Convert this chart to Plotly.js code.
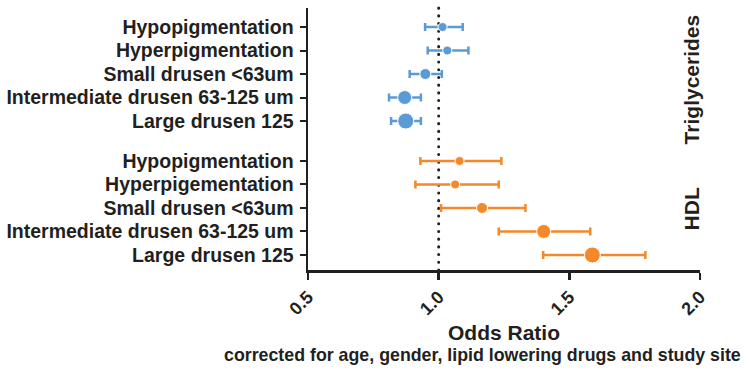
<!DOCTYPE html>
<html>
<head>
<meta charset="utf-8">
<script src="https://cdn.plot.ly/plotly-3.0.1.min.js"></script>
<style>html,body{margin:0;padding:0;background:#fff;}#chart{width:749px;height:370px;}</style>
</head>
<body>
<div id="chart"></div>
<script>
// Data
const trigLabels = ["Hypopigmentation", "Hyperpigmentation", "Small drusen <63um", "Intermediate drusen 63-125 um", "Large drusen 125"];
const trigOR = [1.015, 1.033, 0.949, 0.870, 0.874];
const trigLo = [0.948, 0.958, 0.889, 0.810, 0.818];
const trigHi = [1.092, 1.114, 1.012, 0.932, 0.932];

const hdlLabels = ["Hypopigmentation", "Hyperpigementation", "Small drusen <63um", "Intermediate drusen 63-125 um", "Large drusen 125"];
const hdlOR = [1.080, 1.063, 1.166, 1.402, 1.588];
const hdlLo = [0.930, 0.911, 1.009, 1.230, 1.400];
const hdlHi = [1.240, 1.230, 1.332, 1.580, 1.791];

const groupNames = ["Triglycerides", "HDL"];
const xTicks = [0.5, 1.0, 1.5, 2.0];
const xTickText = ["0.5", "1.0", "1.5", "2.0"];

// Layout helpers (positions/styles)
const gap = 5.7;
const trigY = trigLabels.map((_, i) => i);
const hdlY = hdlLabels.map((_, i) => i + gap);
const sizes = [9, 9, 11, 14, 16];
const blue = "#5b9bd5", orange = "#f5892a", ink = "#231f20";
const FONT = "Liberation Sans, Arial, sans-serif";

function trace(x, lo, hi, y, color) {
  return {
    type: "scatter", mode: "markers", x: x, y: y,
    marker: {color: color, size: sizes, opacity: 1},
    error_x: {type: "data", symmetric: false,
      array: x.map((v, i) => hi[i] - v),
      arrayminus: x.map((v, i) => v - lo[i]),
      color: color, thickness: 2.5, width: 4},
    showlegend: false, hoverinfo: "skip", cliponaxis: false
  };
}

const data = [
  trace(trigOR, trigLo, trigHi, trigY, blue),
  trace(hdlOR, hdlLo, hdlHi, hdlY, orange)
];

const layout = {
  width: 749, height: 370,
  margin: {l: 308, r: 49, t: 8, b: 100},
  paper_bgcolor: "#fff", plot_bgcolor: "#fff",
  font: {family: FONT, color: ink},
  xaxis: {
    range: [0.5, 2.0], tickvals: xTicks, ticktext: xTickText,
    tickangle: -45, tickfont: {size: 18, family: FONT, color: ink, weight: "bold"},
    showgrid: false, zeroline: false, showline: true, linecolor: ink, linewidth: 2.5,
    ticks: "outside", ticklen: 7, tickwidth: 2.5, tickcolor: ink,
    title: {text: "<b>Odds Ratio</b>", font: {size: 21, family: FONT, color: ink}, standoff: 8}
  },
  yaxis: {
    range: [10.34, -0.81], tickvals: trigY.concat(hdlY), ticktext: trigLabels.concat(hdlLabels),
    tickfont: {size: 19.5, family: FONT, color: ink, weight: "bold"},
    showgrid: false, zeroline: false, showline: true, linecolor: ink, linewidth: 2.5,
    ticks: "outside", ticklen: 6, tickwidth: 2, tickcolor: ink, ticklabelstandoff: 2
  },
  shapes: [{
    type: "line", xref: "x", yref: "paper", x0: 1.0, x1: 1.0, y0: 0, y1: 1,
    line: {color: ink, width: 3, dash: "0.1px,7.6px"}, layer: "below"
  }],
  annotations: [
    {xref: "paper", yref: "paper", x: 0.978, y: 1 - (79 - 8) / 262, yanchor: "middle", xanchor: "center",
     text: "<b>" + groupNames[0] + "</b>",
     textangle: -90, showarrow: false, font: {size: 21, family: FONT, color: ink}},
    {xref: "paper", yref: "paper", x: 0.978, y: 1 - (209 - 8) / 262, yanchor: "middle", xanchor: "center",
     text: "<b>" + groupNames[1] + "</b>",
     textangle: -90, showarrow: false, font: {size: 21, family: FONT, color: ink}},
    {xref: "paper", yref: "paper", x: 1.11, y: -(355 - 270) / 262, yanchor: "middle", xanchor: "right",
     text: "<b>corrected for age, gender, lipid lowering drugs and study site</b>",
     showarrow: false, font: {size: 17.8, family: FONT, color: ink}}
  ]
};

Plotly.newPlot("chart", data, layout, {staticPlot: true, displayModeBar: false});
setTimeout(() => {
  document.querySelectorAll(".shapelayer path").forEach(p => p.style.strokeLinecap = "round");
}, 50);
</script>
</body>
</html>
